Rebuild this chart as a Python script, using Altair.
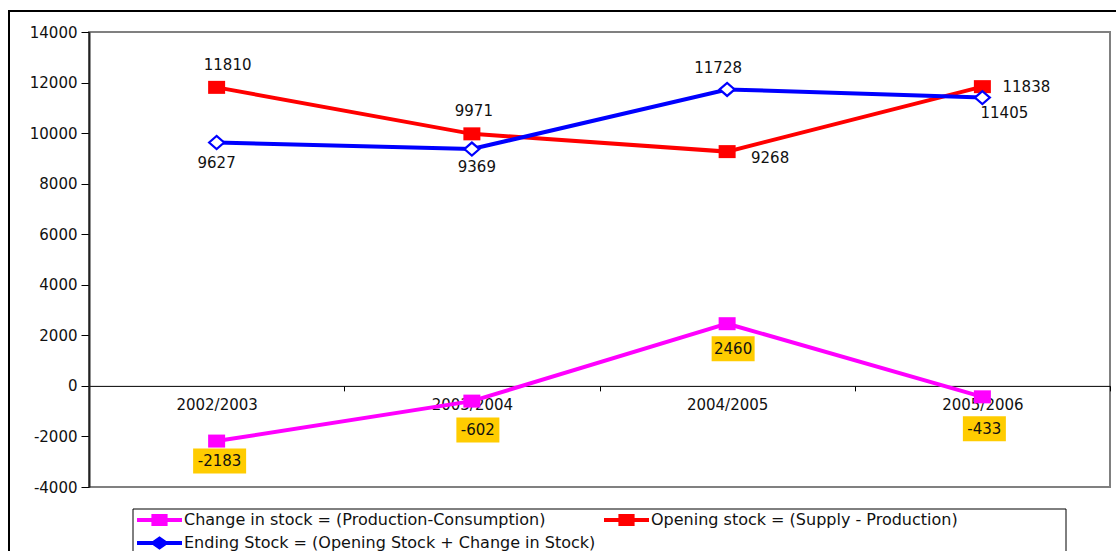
import altair as alt
import pandas as pd

# ---- data -------------------------------------------------------------
periods = ["2002/2003", "2003/2004", "2004/2005", "2005/2006"]
change_in_stock = [-2183, -602, 2460, -433]
opening_stock = [11810, 9971, 9268, 11838]
ending_stock = [9627, 9369, 11728, 11405]

series_names = [
    "Change in stock = (Production-Consumption)",
    "Opening stock = (Supply - Production)",
    "Ending Stock = (Opening Stock + Change in Stock)",
]
series_values = [change_in_stock, opening_stock, ending_stock]
series_colors = ["#FF00FF", "#FF0000", "#0000FF"]

# ---- label placement: pixel offset of each value label from its point ----
label_offsets = {
    series_names[0]: [(3, 20), (6, 29), (6, 25), (2, 32)],
    series_names[1]: [(11, -22), (2, -23), (43, 6), (44, 0)],
    series_names[2]: [(0, 20), (5, 18), (-9, -21), (22, 15)],
}

rows = []
for name, vals in zip(series_names, series_values):
    for p, v in zip(periods, vals):
        rows.append({"series": name, "period": p, "value": v})
df = pd.DataFrame(rows)

# ---- geometry ---------------------------------------------------------
W, H = 1021, 455
Y_MIN, Y_MAX = -4000, 14000
zero_from_bottom = H * (0 - Y_MIN) / (Y_MAX - Y_MIN)
FONT = "DejaVu Sans"
FS = 15
INK = "#111111"

color_scale = alt.Scale(domain=series_names, range=series_colors)

# legend glyphs: a thick line with the series marker in the middle
legend_square = (
    "M-1,-0.09H-0.36V-0.27H0.36V-0.09H1V0.09H0.36V0.27H-0.36V0.09H-1Z"
)
legend_diamond = (
    "M-1,-0.09H-0.3L0,-0.3L0.3,-0.09H1V0.09H0.3L0,0.3L-0.3,0.09H-1Z"
)
shape_scale = alt.Scale(
    domain=series_names, range=[legend_square, legend_square, legend_diamond]
)

x_enc = alt.X(
    "period:N",
    sort=periods,
    scale=alt.Scale(paddingInner=0, paddingOuter=0),
    axis=alt.Axis(
        title=None,
        labelAngle=0,
        offset=-zero_from_bottom,
        domainColor="#000000",
        domainWidth=1,
        tickBand="extent",
        tickColor="#000000",
        tickSize=5,
        labelPadding=7,
        labelFont=FONT,
        labelFontSize=FS,
        labelColor=INK,
        grid=False,
    ),
)
y_enc = alt.Y(
    "value:Q",
    scale=alt.Scale(domain=[Y_MIN, Y_MAX], nice=False, zero=False),
    axis=alt.Axis(
        title=None,
        values=list(range(Y_MIN, Y_MAX + 1, 2000)),
        labelExpr="'' + datum.value",
        domainColor="#222222",
        domainWidth=2,
        tickColor="#000000",
        tickSize=8,
        labelPadding=4,
        labelFont=FONT,
        labelFontSize=FS,
        labelColor=INK,
        grid=False,
    ),
)

base = alt.Chart(df).transform_calculate(label="'' + datum.value")


def px_rect(cx, cy, w, h):
    """Symbol path in pixel units (used with size=4), centred at (cx, cy)."""
    return f"M{cx - w / 2},{cy - h / 2}h{w}v{h}h{-w}Z"


# outer frame of the figure and the box around the legend
one_row = alt.Data(values=[{"k": 1}])
outer_frame = alt.Chart(one_row).mark_rect(
    fill=None, stroke="#000000", strokeWidth=2
).encode(x=alt.value(-80), x2=alt.value(1300), y=alt.value(-21), y2=alt.value(700))
legend_box = alt.Chart(one_row).mark_rect(
    fill="#ffffff", stroke="#000000", strokeWidth=1
).encode(x=alt.value(44), x2=alt.value(977), y=alt.value(477), y2=alt.value(700))

# legend carrier: draws nothing, defines the merged colour/shape legend
legend_layer = base.transform_filter("false").mark_point(
    filled=True, opacity=1
).encode(
    x=x_enc,
    y=y_enc,
    color=alt.Color(
        "series:N",
        scale=color_scale,
        legend=alt.Legend(
            title=None,
            orient="none",
            legendX=48,
            legendY=480,
            direction="horizontal",
            columns=2,
            columnPadding=8,
            rowPadding=7,
            clipHeight=16,
            symbolSize=2025,
            symbolStrokeWidth=0,
            symbolOpacity=1,
            labelFont=FONT,
            labelFontSize=16,
            labelColor=INK,
            labelLimit=800,
            labelOffset=2,
            padding=0,
        ),
    ),
    shape=alt.Shape(
        "series:N",
        scale=shape_scale,
        legend=alt.Legend(
            title=None,
            orient="none",
            legendX=48,
            legendY=480,
            direction="horizontal",
            columns=2,
            columnPadding=8,
            rowPadding=7,
            clipHeight=16,
            symbolSize=2025,
            symbolStrokeWidth=0,
            symbolOpacity=1,
            labelFont=FONT,
            labelFontSize=16,
            labelColor=INK,
            labelLimit=800,
            labelOffset=2,
            padding=0,
        ),
    ),
)

# square markers
squares = base.transform_filter(
    alt.datum.series != series_names[2]
).mark_point(shape=px_rect(0, 0, 17, 13), size=4, filled=True, opacity=1).encode(
    x=x_enc,
    y=y_enc,
    color=alt.Color("series:N", scale=color_scale),
)

lines = base.mark_line(strokeWidth=4).encode(
    x=x_enc,
    y=y_enc,
    color=alt.Color("series:N", scale=color_scale),
    detail="series:N",
)

# open diamond markers of the ending stock
diamonds = base.transform_filter(
    alt.datum.series == series_names[2]
).mark_point(
    shape="M-7.5,0L0,-6.5L7.5,0L0,6.5Z", size=4, filled=False, fill="#ffffff",
    strokeWidth=2.2, opacity=1,
).encode(
    x=x_enc,
    y=y_enc,
    color=alt.Color("series:N", scale=color_scale),
)

# value labels (yellow boxes behind the change-in-stock values)
label_layers = []
for name, vals in zip(series_names, series_values):
    for p, v, (dx, dy) in zip(periods, vals, label_offsets[name]):
        one = base.transform_filter(
            (alt.datum.series == name) & (alt.datum.period == p)
        )
        if name == series_names[0]:
            box_w = 43 if len(str(v)) <= 4 else 53
            label_layers.append(
                one.mark_point(
                    shape=px_rect(dx, dy, box_w, 25), size=4, filled=True,
                    color="#FFCC00", opacity=1,
                ).encode(x=x_enc, y=y_enc)
            )
        label_layers.append(
            one.mark_text(
                font=FONT, fontSize=FS, color=INK, align="center",
                baseline="middle", dx=dx, dy=dy,
            ).encode(x=x_enc, y=y_enc, text="label:N")
        )

chart = alt.layer(
    outer_frame, legend_box, legend_layer, squares, lines, diamonds, *label_layers
).properties(
    width=W,
    height=H,
    autosize=alt.AutoSizeParams(type="none"),
    padding={"left": 89, "top": 32, "right": 6, "bottom": 64},
    background="#ffffff",
).configure_view(
    stroke="#808080", strokeWidth=2
)

chart.save("out.html", embed_options={"renderer": "svg", "actions": False})
